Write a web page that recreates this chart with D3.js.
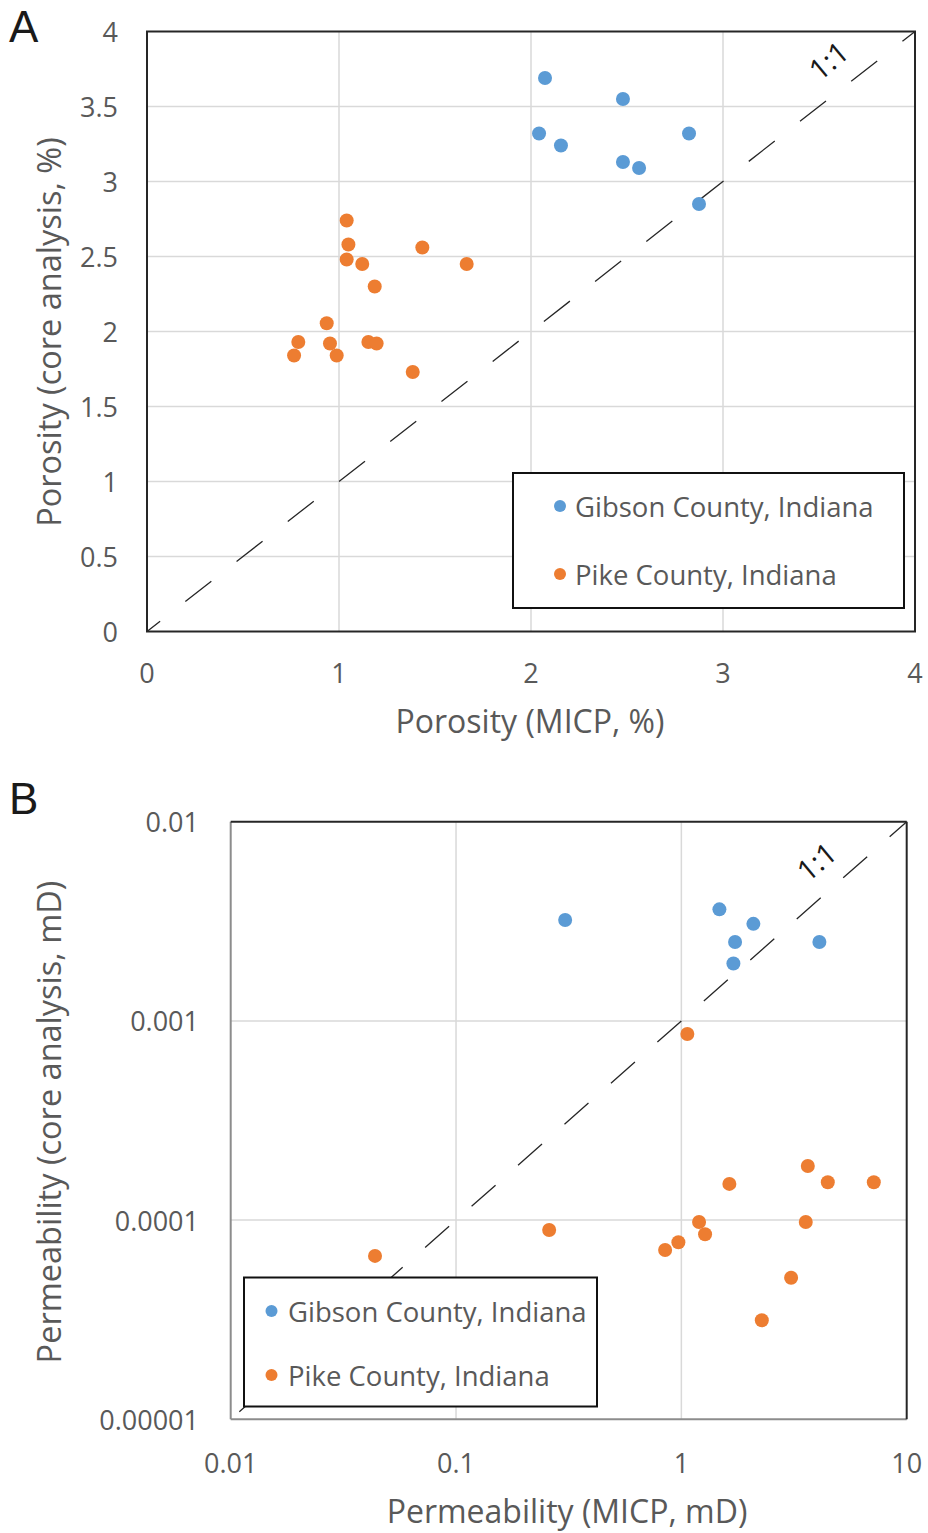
<!DOCTYPE html>
<html><head><meta charset="utf-8">
<script src="https://cdn.jsdelivr.net/npm/d3@7"></script>
<style>body{margin:0;background:#fff}</style>
</head><body><svg id="c" width="928" height="1533"></svg>
<script>
// ---------- Data ----------
const seriesNames = ["Gibson County, Indiana", "Pike County, Indiana"];
const seriesColors = ["#5B9BD5", "#ED7D31"];

// Panel A: porosity (%)
const gibsonPorMICP = [2.073, 2.479, 2.042, 2.156, 2.823, 2.479, 2.563, 2.875];
const gibsonPorCore = [3.69, 3.55, 3.32, 3.24, 3.32, 3.13, 3.09, 2.85];
const pikePorMICP = [1.040, 1.049, 1.040, 1.121, 1.186, 1.434, 1.665, 0.936, 0.788, 0.766, 0.953, 0.988, 1.153, 1.196, 1.384];
const pikePorCore = [2.74, 2.58, 2.48, 2.45, 2.30, 2.56, 2.45, 2.055, 1.93, 1.84, 1.92, 1.84, 1.93, 1.92, 1.73];

// Panel B: permeability (mD)
const gibsonPermMICP = [0.305, 1.475, 2.087, 1.731, 1.702, 4.098];
const gibsonPermCore = [0.00321, 0.00363, 0.00307, 0.00249, 0.00194, 0.00249];
const pikePermMICP = [1.063, 0.0437, 0.259, 3.64, 4.465, 7.145, 1.633, 1.198, 1.274, 0.970, 0.847, 3.565, 3.069, 2.275];
const pikePermCore = [0.000859, 0.0000661, 0.0000892, 0.000187, 0.000155, 0.000155, 0.000152, 0.0000978, 0.0000849, 0.0000774, 0.0000708, 0.0000978, 0.0000514, 0.0000314];

// Ticks
const porXTicks = [0, 1, 2, 3, 4];
const porYTicks = [0, 0.5, 1, 1.5, 2, 2.5, 3, 3.5, 4];
const permXTicks = [0.01, 0.1, 1, 10];
const permXTickLabels = ["0.01", "0.1", "1", "10"];
const permYTicks = [0.01, 0.001, 0.0001, 0.00001];
const permYTickLabels = ["0.01", "0.001", "0.0001", "0.00001"];

// 1:1 reference lines (data coords)
const refLineA = [[0, 0], [4, 4]];
const refLineB = [[0.01, 0.00001], [10, 0.01]];

// ---------- Drawing ----------
const svg = d3.select("#c");
const FONT = "'Open Sans', 'Noto Sans', sans-serif";
const TXT = "#595959";
const DARK = "#262626";
const GRID = "#d9d9d9";

function panel(opts) {
  const g = svg.append("g");
  const x = opts.x, y = opts.y;
  const [x0, x1] = x.range(), [y0, y1] = y.range();

  // gridlines
  g.selectAll(".gx").data(opts.xTicks.slice(1, -1)).join("line")
    .attr("x1", d => x(d)).attr("x2", d => x(d)).attr("y1", y0).attr("y2", y1)
    .attr("stroke", GRID).attr("stroke-width", 1.5);
  g.selectAll(".gy").data(opts.yTicks.slice(1, -1)).join("line")
    .attr("y1", d => y(d)).attr("y2", d => y(d)).attr("x1", x0).attr("x2", x1)
    .attr("stroke", GRID).attr("stroke-width", 1.5);

  // 1:1 dashed line
  const line = d3.line().x(d => x(d[0])).y(d => y(d[1]));
  const p0 = opts.ref[0];
  const anc = opts.anchor;
  const dist = Math.hypot(x(anc[0]) - x(p0[0]), y(anc[1]) - y(p0[1]));
  const period = opts.dash[0] + opts.dash[1];
  const target = opts.anchorIsStart ? 0 : opts.dash[0];
  const off = ((target - dist) % period + period) % period;
  g.append("path").datum(opts.ref).attr("d", line)
    .attr("fill", "none").attr("stroke", DARK).attr("stroke-width", 1.3)
    .attr("stroke-dasharray", opts.dash.join(",")).attr("stroke-dashoffset", off);

  // points
  opts.series.forEach((s, i) => {
    g.append("g").selectAll("circle").data(s.xs.map((v, k) => [v, s.ys[k]])).join("circle")
      .attr("cx", d => x(d[0])).attr("cy", d => y(d[1])).attr("r", 7)
      .attr("fill", seriesColors[i]);
  });

  // 1:1 label
  g.append("text").attr("transform", `translate(${opts.lblPos[0]},${opts.lblPos[1]}) rotate(-40)`)
    .attr("text-anchor", "middle").attr("dominant-baseline", "central")
    .attr("font-family", FONT).attr("font-size", 29).attr("fill", "#1a1a1a").text("1:1");

  // frame
  if (opts.grayLB) {
    g.append("line").attr("x1", x0).attr("x2", x0).attr("y1", y0).attr("y2", y1).attr("stroke", "#8c8c8c").attr("stroke-width", 2);
    g.append("line").attr("x1", x0).attr("x2", x1).attr("y1", y0).attr("y2", y0).attr("stroke", "#8c8c8c").attr("stroke-width", 2);
    g.append("line").attr("x1", x0).attr("x2", x1).attr("y1", y1).attr("y2", y1).attr("stroke", DARK).attr("stroke-width", 2);
    g.append("line").attr("x1", x1).attr("x2", x1).attr("y1", y0).attr("y2", y1).attr("stroke", DARK).attr("stroke-width", 2);
  } else {
    g.append("rect").attr("x", x0).attr("y", y1).attr("width", x1 - x0).attr("height", y0 - y1)
      .attr("fill", "none").attr("stroke", DARK).attr("stroke-width", 2);
  }

  // legend
  const L = opts.legend;
  g.append("rect").attr("x", L.x).attr("y", L.y).attr("width", L.w).attr("height", L.h)
    .attr("fill", "#fff").attr("stroke", "#111").attr("stroke-width", 2);
  seriesNames.forEach((n, i) => {
    const cy = L.y + L.dy0 + i * L.step;
    g.append("circle").attr("cx", L.x + L.dotX).attr("cy", cy).attr("r", 6).attr("fill", seriesColors[i]);
    g.append("text").attr("x", L.x + L.textX).attr("y", cy).attr("dominant-baseline", "central")
      .attr("font-family", FONT).attr("font-size", 27.5).attr("fill", TXT).text(n);
  });

  // tick labels
  g.selectAll(".tx").data(opts.xTicks).join("text")
    .attr("x", d => x(d)).attr("y", opts.xLblY).attr("text-anchor", "middle").attr("dominant-baseline", "central")
    .attr("font-family", FONT).attr("font-size", 27).attr("fill", TXT)
    .text((d, i) => opts.xLabels[i]);
  g.selectAll(".ty").data(opts.yTicks).join("text")
    .attr("x", opts.yLblX).attr("y", d => y(d)).attr("text-anchor", "end").attr("dominant-baseline", "central")
    .attr("font-family", FONT).attr("font-size", 27).attr("fill", TXT)
    .text((d, i) => opts.yLabels[i]);

  // axis titles
  g.append("text").attr("x", opts.xTitle[0]).attr("y", opts.xTitle[1]).attr("text-anchor", "middle")
    .attr("dominant-baseline", "central").attr("font-family", FONT).attr("font-size", 32).attr("fill", TXT)
    .text(opts.xTitleText);
  g.append("text").attr("transform", `translate(${opts.yTitle[0]},${opts.yTitle[1]}) rotate(-90)`)
    .attr("text-anchor", "middle").attr("dominant-baseline", "central")
    .attr("font-family", FONT).attr("font-size", 32.5).attr("fill", TXT)
    .text(opts.yTitleText);

  // panel letter
  g.append("text").attr("x", opts.letterPos[0]).attr("y", opts.letterPos[1])
    .attr("font-family", "'Liberation Sans', Arial, sans-serif").attr("font-size", 44).attr("fill", "#1a1a1a").text(opts.letter);
}

// Panel A
panel({
  x: d3.scaleLinear().domain([0, 4]).range([147, 915]),
  y: d3.scaleLinear().domain([0, 4]).range([631.5, 31.5]),
  xTicks: porXTicks, yTicks: porYTicks,
  xLabels: porXTicks.map(String), yLabels: porYTicks.map(String),
  ref: refLineA, anchor: [1, 1], anchorIsStart: true, dash: [33, 32],
  series: [{xs: gibsonPorMICP, ys: gibsonPorCore}, {xs: pikePorMICP, ys: pikePorCore}],
  lblPos: [828, 60],
  legend: {x: 513, y: 473, w: 391, h: 135, dotX: 47, textX: 62, dy0: 33, step: 68},
  xLblY: 672, yLblX: 118,
  xTitle: [530, 720], xTitleText: "Porosity (MICP, %)",
  yTitle: [48, 332], yTitleText: "Porosity (core analysis, %)",
  letter: "A", letterPos: [9, 42], grayLB: false
});

// Panel B
panel({
  x: d3.scaleLog().domain([0.01, 10]).range([230.7, 906.7]),
  y: d3.scaleLog().domain([0.00001, 0.01]).range([1419.3, 821.7]),
  xTicks: permXTicks, yTicks: permYTicks.slice().reverse(),
  xLabels: permXTickLabels, yLabels: permYTickLabels.slice().reverse(),
  ref: refLineB, anchor: [1, 0.001], anchorIsStart: false, dash: [32, 30],
  series: [{xs: gibsonPermMICP, ys: gibsonPermCore}, {xs: pikePermMICP, ys: pikePermCore}],
  lblPos: [816, 861],
  legend: {x: 244, y: 1277.5, w: 353, h: 129, dotX: 27.5, textX: 44, dy0: 33.5, step: 64},
  xLblY: 1462, yLblX: 199,
  xTitle: [567, 1510], xTitleText: "Permeability (MICP, mD)",
  yTitle: [48, 1122], yTitleText: "Permeability (core analysis, mD)",
  letter: "B", letterPos: [9, 814], grayLB: true
});
</script></body></html>
